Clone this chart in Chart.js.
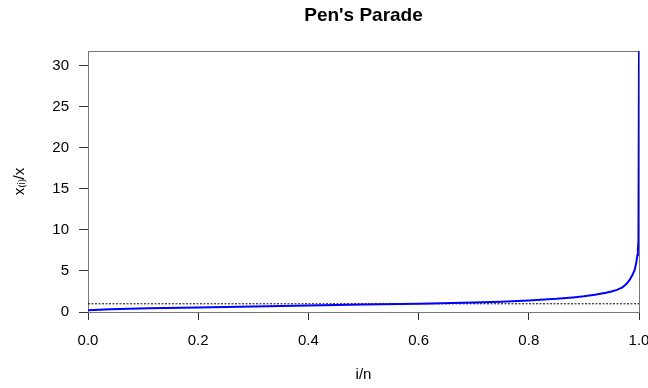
<!DOCTYPE html>
<html><head><meta charset="utf-8">
<script src="https://cdn.jsdelivr.net/npm/chart.js@4"></script>
<style>
html,body{margin:0;padding:0;overflow:hidden;background:#fff;width:648px;height:388px}
#wrap{width:680px;height:388px;position:relative}
</style>
</head><body><div id="wrap"><canvas id="c" width="680" height="388"></canvas></div>
<script>
// Pen's Parade: share of population (i/n) vs relative income x(i)/mean
const shareX = [0.000, 0.010, 0.040, 0.110, 0.200, 0.300, 0.400, 0.500, 0.600, 0.700,
                0.750, 0.800, 0.850, 0.880, 0.900, 0.920, 0.940, 0.950, 0.960, 0.970,
                0.977, 0.983, 0.988, 0.992, 0.995, 0.997, 0.998, 0.999, 1.000];
const ratioValues = [0.20, 0.25, 0.35, 0.45, 0.55, 0.68, 0.80, 0.92, 1.02, 1.15,
                     1.25, 1.40, 1.60, 1.78, 1.92, 2.10, 2.35, 2.50, 2.70, 3.00,
                     3.40, 3.90, 4.50, 5.10, 6.00, 6.90, 7.60, 8.70, 31.80];
const referenceLevel = 1;
const xTicks = [0, 0.2, 0.4, 0.6, 0.8, 1.0];
const yTicks = [0, 5, 10, 15, 20, 25, 30];
const xRange = [0, 1];
const yRange = [0, 31.8];

const FONT = "'Liberation Sans', Arial, sans-serif";

const boxPlugin = {
  id: 'box',
  beforeDatasetsDraw(chart) {
    const {ctx, chartArea: a} = chart;
    ctx.save();
    ctx.strokeStyle = '#777';
    ctx.lineWidth = 1;
    ctx.strokeRect(Math.round(a.left) + 0.5, Math.round(a.top) + 0.5,
                   Math.round(a.right - a.left), Math.round(a.bottom - a.top));
    ctx.restore();
  }
};

new Chart(document.getElementById('c'), {
  type: 'line',
  data: {
    datasets: [
      {
        data: shareX.map((x, i) => ({x: x, y: ratioValues[i]})),
        borderColor: '#0000ff',
        borderWidth: 2,
        pointRadius: 0,
        tension: 0,
        fill: false
      },
      {
        data: xRange.map(x => ({x: x, y: referenceLevel})),
        borderColor: '#000',
        borderWidth: 1,
        borderDash: [2, 1.5],
        pointRadius: 0,
        fill: false
      }
    ]
  },
  options: {
    responsive: false,
    animation: false,
    devicePixelRatio: 1,
    layout: {padding: {left: 0, right: 41, top: 0, bottom: 0}},
    plugins: {
      legend: {display: false},
      tooltip: {enabled: false},
      title: {
        display: true,
        fullSize: false,
        text: "Pen's Parade",
        color: '#000',
        font: {family: FONT, size: 19, weight: 'bold'},
        padding: {top: 4, bottom: 24.2}
      }
    },
    scales: {
      x: {
        type: 'linear',
        min: xRange[0], max: xRange[1],
        afterBuildTicks: s => { s.ticks = xTicks.map(v => ({value: v})); },
        afterFit: s => { s.height = 388 - 312; },
        border: {display: false},
        grid: {display: true, drawOnChartArea: false, drawTicks: true, tickLength: 8, color: '#333'},
        ticks: {
          color: '#000', font: {family: FONT, size: 15}, padding: 12,
          maxRotation: 0, autoSkip: false,
          callback: v => Number(v).toFixed(1)
        },
        title: {display: true, text: 'i/n', color: '#000', font: {family: FONT, size: 15}, padding: {top: 4, bottom: 4}}
      },
      y: {
        type: 'linear',
        min: yRange[0], max: yRange[1],
        afterBuildTicks: s => { s.ticks = yTicks.map(v => ({value: v})); },
        afterFit: s => { s.width = 88; },
        border: {display: false},
        grid: {display: true, drawOnChartArea: false, drawTicks: true, tickLength: 9, color: '#333'},
        ticks: {
          color: '#000', font: {family: FONT, size: 15}, padding: 10,
          autoSkip: false,
          callback: v => String(v)
        },
        title: {display: true, text: 'x\u208D\u1D62\u208E/x', color: '#000', font: {family: FONT, size: 15}, padding: {top: 11, bottom: 0}}
      }
    }
  },
  plugins: [boxPlugin]
});
</script>
</body></html>
